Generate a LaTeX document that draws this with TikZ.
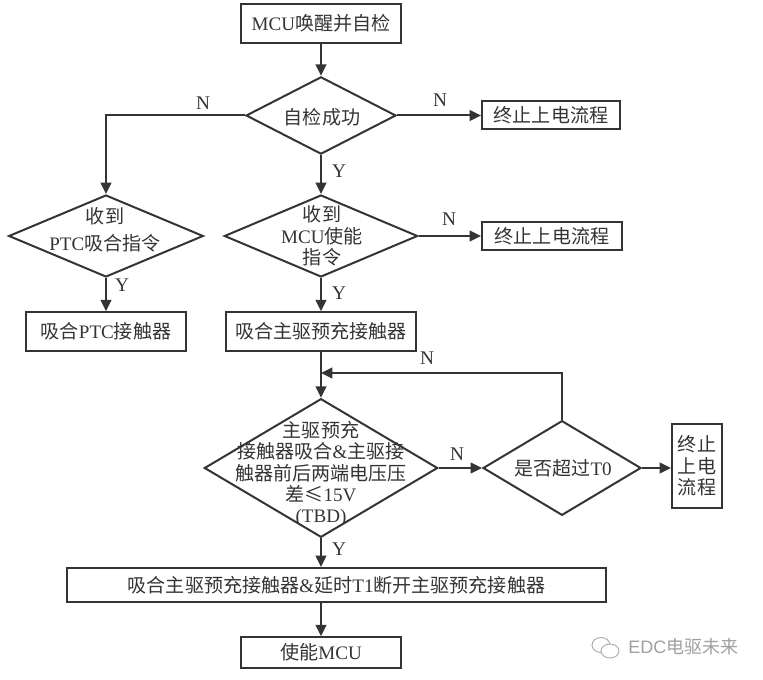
\documentclass[tikz,border=0pt]{standalone}
\usepackage{fontspec}
\setmainfont{Liberation Serif}
\newfontfamily\cjk{Noto Sans CJK SC}
\usetikzlibrary{shapes.geometric,arrows.meta}
\definecolor{inkgray}{RGB}{52,52,52}
\tikzset{
  flowbox/.style={draw=inkgray,line width=1.5pt,rectangle,inner sep=0pt,text=inkgray,font=\fontsize{14.3pt}{16pt}\selectfont,align=center},
  decision/.style={draw=inkgray,line width=1.5pt,diamond,inner sep=0pt},
  decisiontext/.style={inner sep=0pt,text=inkgray,font=\fontsize{14.3pt}{16pt}\selectfont,align=center},
  flag/.style={inner sep=0pt,text=inkgray,font=\fontsize{14.5pt}{16pt}\selectfont},
  flowline/.style={draw=inkgray,line width=1.5pt},
  flowarrow/.style={flowline,-{Triangle[length=8.5pt,width=8pt]}},
  mark text/.style={inner sep=0pt,text=gray!75,font=\fontsize{13.5pt}{15pt}\selectfont}
}
\begin{document}
\begin{tikzpicture}[x=0.75pt,y=0.75pt,yscale=-1,xscale=1]
\useasboundingbox (0,0) rectangle (763,680);
%Boxes
\node[flowbox,minimum width=120pt,minimum height=29pt] (wake) at (321,23.5) {MCU{\cjk 唤醒并自检}};
\node[flowbox,minimum width=103.5pt,minimum height=21pt] (stopa) at (551,115.5) {\cjk 终止上电流程};
\node[flowbox,minimum width=105pt,minimum height=21pt] (stopb) at (552,236) {\cjk 终止上电流程};
\node[flowbox,minimum width=120pt,minimum height=29pt] (ptcclose) at (106,331.5) {{\cjk 吸合}PTC{\cjk 接触器}};
\node[flowbox,minimum width=142pt,minimum height=29pt] (preclose) at (321,331.5) {\cjk 吸合主驱预充接触器};
\node[flowbox,minimum width=37.5pt,minimum height=63pt] (stopc) at (697,466) {\cjk 终止\\\cjk 上电\\\cjk 流程};
\node[flowbox,minimum width=404pt,minimum height=25.5pt] (mainclose) at (336.5,585) {{\cjk 吸合主驱预充接触器}\&{\cjk 延时}T1{\cjk 断开主驱预充接触器}};
\node[flowbox,minimum width=120pt,minimum height=23pt] (enable) at (321,652.5) {{\cjk 使能}MCU};
%Diamonds
\node[decision,minimum width=112.5pt,minimum height=58pt] (selftest) at (321,115.5) {};
\node[decision,minimum width=146pt,minimum height=61.5pt] (ptcask) at (106,236) {};
\node[decision,minimum width=145pt,minimum height=61.5pt] (mcuask) at (321,236) {};
\node[decision,minimum width=175pt,minimum height=104pt] (voltage) at (321,468) {};
\node[decision,minimum width=118.5pt,minimum height=71pt] (timeout) at (562,468) {};
%Diamond texts
\node[decisiontext] (selftesttext) at (322,117) {\cjk 自检成功};
\node[decisiontext] (ptcasktext) at (105,230) {{\cjk 收到}\\[4pt]PTC{\cjk 吸合指令}};
\node[decisiontext] (mcuasktext) at (322,236) {{\cjk 收到}\\MCU{\cjk 使能}\\{\cjk 指令}};
\node[decisiontext] (voltagetext) at (321,474) {{\cjk 主驱预充}\\{\cjk 接触器吸合}\&{\cjk 主驱接}\\{\cjk 触器前后两端电压压}\\{\cjk 差}{\cjk ≤}15V\\(TBD)};
\node[decisiontext] (timeouttext) at (563,468) {{\cjk 是否超过}T0};
%Connectors
\coordinate (merge) at (321,373);
\draw[flowarrow] (wake) -- (selftest);
\draw[flowarrow] (selftest) -- (stopa);
\draw[flowarrow] (selftest.west) -| (ptcask.north);
\draw[flowarrow] (selftest) -- (mcuask);
\draw[flowarrow] (mcuask) -- (stopb);
\draw[flowarrow] (ptcask) -- (ptcclose);
\draw[flowarrow] (mcuask) -- (preclose);
\draw[flowarrow] (preclose) -- (voltage);
\draw[flowarrow] (voltage) -- (timeout);
\draw[flowarrow] (timeout.north) |- (merge);
\draw[flowarrow] (timeout) -- (stopc.west |- timeout);
\draw[flowarrow] (voltage.south) -- (voltage.south |- mainclose.north);
\draw[flowarrow] (enable.north |- mainclose.south) -- (enable.north);
%Flags
\node[flag] (na) at (203,103) {N};
\node[flag] (nb) at (440,100) {N};
\node[flag] (ya) at (339,171) {Y};
\node[flag] (nc) at (449,219) {N};
\node[flag] (yb) at (122,285) {Y};
\node[flag] (yc) at (339,293) {Y};
\node[flag] (nd) at (427,358) {N};
\node[flag] (ne) at (457,454) {N};
\node[flag] (yd) at (339,549) {Y};
%Watermark
\draw[gray!65,line width=0.7pt] (601,645) ellipse [x radius=9,y radius=7.5];
\draw[gray!65,line width=0.7pt,fill=white] (610,651) ellipse [x radius=9,y radius=7];
\node[mark text,anchor=west] (markname) at (628,647) {\fontspec{Liberation Sans}EDC{\cjk 电驱未来}};
\end{tikzpicture}
\end{document}
